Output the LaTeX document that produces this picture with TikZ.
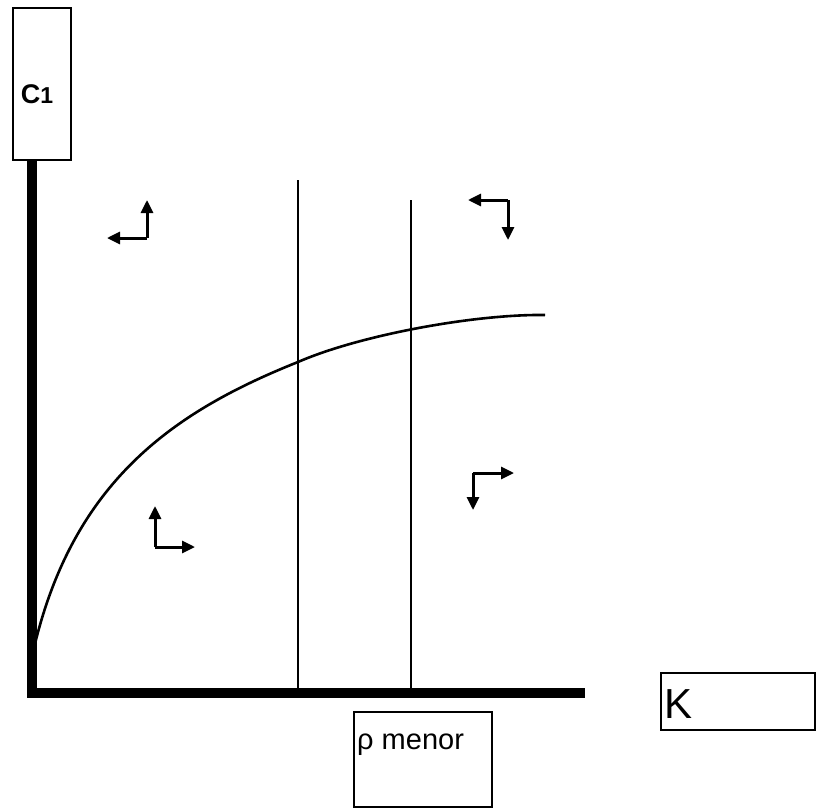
\documentclass[tikz,border=0pt]{standalone}
\usepackage{fontspec}
\setmainfont{Liberation Sans}
\usetikzlibrary{arrows.meta}
\begin{document}
\begin{tikzpicture}[x=1pt,y=-1pt,
  axis/.style={line width=10pt,line cap=butt},
  vline/.style={line width=2pt},
  curveline/.style={line width=2.6pt},
  dirarrow/.style={line width=3pt,line join=miter,-{Triangle[length=13pt,width=12pt]}},
  labelbox/.style={draw,line width=1.4pt,inner sep=0pt},
  lbl/.style={inner sep=0pt,anchor=west}]
\useasboundingbox (0,0) rectangle (821,808);
% boxes
\node[labelbox,minimum width=58pt,minimum height=152pt] (c1box) at (42,84) {};
\node[lbl,anchor=center,font=\bfseries\fontsize{27}{27}\selectfont] (c1) at (37,94) {C\fontsize{23}{23}\selectfont 1};
\node[labelbox,minimum width=138pt,minimum height=95pt] (rhobox) at (423,759.5) {};
\node[lbl,font=\fontsize{29}{29}\selectfont] (rho) at (357,745) {ρ menor};
\node[labelbox,minimum width=154pt,minimum height=57pt] (kbox) at (738,701.5) {};
\node[lbl,font=\fontsize{42}{42}\selectfont] (k) at (664,704) {K};
% axes
\coordinate (ytop) at (32,160);
\coordinate (xend) at (585,692.5);
\draw[axis] (ytop) -- (32,697.5);
\draw[axis] (27,692.5) -- (xend);
% vertical lines
\coordinate (v1t) at (298,180);
\coordinate (v1b) at (298,692);
\coordinate (v2t) at (411,200);
\coordinate (v2b) at (411,692);
\draw[vline] (v1t) -- (v1b);
\draw[vline] (v2t) -- (v2b);
% curve
\coordinate (c0) at (34,648);
\coordinate (cm) at (298,362);
\coordinate (ce) at (545,315);
\draw[curveline] (c0) .. controls (74,478) and (178,410) .. (cm)
  .. controls (360,335) and (475,314) .. (ce);
% arrows
\coordinate (a1) at (147,238);
\coordinate (a1l) at (107,238);
\coordinate (a1u) at (147,200);
\draw[dirarrow] (a1) -- (a1l);
\draw[dirarrow] (a1) -- (a1u);
\coordinate (a2) at (508,200);
\coordinate (a2l) at (468,200);
\coordinate (a2d) at (508,240);
\draw[dirarrow] (a2) -- (a2l);
\draw[dirarrow] (a2) -- (a2d);
\coordinate (a3) at (155,547);
\coordinate (a3u) at (155,506);
\coordinate (a3r) at (195,547);
\draw[dirarrow] (a3) -- (a3u);
\draw[dirarrow] (a3) -- (a3r);
\coordinate (a4) at (473,473);
\coordinate (a4r) at (514,473);
\coordinate (a4d) at (473,510);
\draw[dirarrow] (a4) -- (a4r);
\draw[dirarrow] (a4) -- (a4d);
\end{tikzpicture}
\end{document}
